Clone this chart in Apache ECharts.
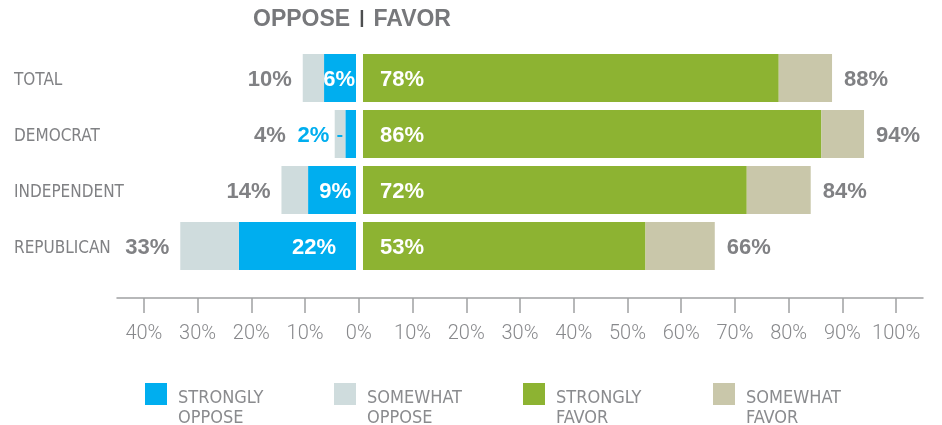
<!DOCTYPE html>
<html>
<head>
<meta charset="utf-8">
<script src="https://cdn.jsdelivr.net/npm/echarts@6/dist/echarts.min.js"></script>
<style>
  html, body { margin: 0; padding: 0; background: #fff; }
  #chart { width: 942px; height: 425px; }
</style>
</head>
<body>
<div id="chart"></div>
<script>
// values
var categories = ['TOTAL', 'DEMOCRAT', 'INDEPENDENT', 'REPUBLICAN'];
var stronglyOppose = [6, 2, 9, 22];
var somewhatOppose = [4, 2, 5, 11];
var stronglyFavor = [78, 86, 72, 53];
var somewhatFavor = [10, 8, 12, 13];
var opposeTotals = [10, 4, 14, 33];
var favorTotals = [88, 94, 84, 66];
var tickValues = [-40, -30, -20, -10, 0, 10, 20, 30, 40, 50, 60, 70, 80, 90, 100];

var NARROW = '"Liberation Sans Narrow", "DejaVu Sans Condensed", sans-serif';
var BOLD = '"Liberation Sans", Arial, sans-serif';
var GREY = '#808184';
var BLUE = '#00aeef';

var chart = echarts.init(document.getElementById('chart'));

var valueLabel = {
  fontFamily: BOLD,
  fontWeight: 'bold',
  fontSize: 22,
  offset: [0, 2]
};

// strongly oppose: inside labels, democrat one sits outside with a small dash
var insideDist = [1, 0, 5, 20];
var strongOppData = stronglyOppose.map(function (v, i) {
  var item = { value: -v, label: { distance: insideDist[i] } };
  if (categories[i] === 'DEMOCRAT') {
    item.label = {
      position: 'left',
      distance: 3,
      formatter: '{v|' + v + '%}{g|}{d|}',
      rich: {
        v: { color: BLUE, fontFamily: BOLD, fontWeight: 'bold', fontSize: 22 },
        g: { width: 8 },
        d: { width: 5, height: 2, backgroundColor: BLUE }
      }
    };
  }
  return item;
});

var someOppData = somewhatOppose.map(function (v, i) {
  var item = { value: -v };
  if (categories[i] === 'DEMOCRAT') item.label = { distance: 49 };
  return item;
});

chart.setOption({
  backgroundColor: '#fff',
  animation: false,
  title: {
    left: 253,
    top: 8,
    padding: 0,
    text: '{b|OPPOSE}{s||}{b|FAVOR}',
    textStyle: {
      rich: {
        b: { fontFamily: BOLD, fontWeight: 'bold', fontSize: 23, color: '#77787b' },
        s: { fontFamily: BOLD, fontSize: 19, color: '#4d4e50', padding: [0, 9, 3, 9] }
      }
    }
  },
  legend: [
    { name: 'STRONGLY OPPOSE', left: 145 },
    { name: 'SOMEWHAT OPPOSE', left: 334 },
    { name: 'STRONGLY FAVOR', left: 523 },
    { name: 'SOMEWHAT FAVOR', left: 713 }
  ].map(function (l) {
    return {
      data: [l.name],
      left: l.left,
      top: 360,
      padding: 0,
      icon: 'rect',
      itemWidth: 22,
      itemHeight: 22,
      selectedMode: false,
      formatter: function (name) {
        var w = name.split(' ');
        return '{sp| }\n{t|' + w[0] + '}\n{t|' + w[1] + '}';
      },
      textStyle: {
        color: '#8a8b8e',
        fontFamily: NARROW,
        fontSize: 18,
        rich: {
          sp: { height: 28, lineHeight: 28, fontSize: 4 },
          t: { color: '#8a8b8e', fontFamily: NARROW, fontSize: 18, lineHeight: 20, padding: [0, 0, 0, 6] }
        }
      }
    };
  }),
  grid: [
    { left: 117, right: 19, top: 0, height: 298, outerBoundsMode: 'none' },
    { left: 143, right: 586, top: 50, height: 224, outerBoundsMode: 'none' },
    { left: 363, right: 46, top: 50, height: 224, outerBoundsMode: 'none' }
  ],
  xAxis: [
    {
      gridIndex: 0,
      type: 'value',
      min: -45,
      max: 105,
      axisLine: { show: true, onZero: false, lineStyle: { color: '#a0a1a3', width: 1.5 } },
      axisTick: { show: true, customValues: tickValues, length: 15, lineStyle: { color: '#a0a1a3', width: 1.5 } },
      axisLabel: {
        customValues: tickValues,
        margin: 26,
        color: '#88898c',
        fontFamily: 'Roboto, sans-serif',
        fontWeight: 300,
        fontSize: 20,
        formatter: function (v) { return Math.abs(v) + '%'; }
      },
      splitLine: { show: false }
    },
    { gridIndex: 1, type: 'value', min: -40, max: 0, show: false },
    { gridIndex: 2, type: 'value', min: 0, max: 100, show: false }
  ],
  yAxis: [
    { gridIndex: 0, type: 'value', show: false },
    {
      gridIndex: 1,
      type: 'category',
      data: categories,
      inverse: true,
      axisLine: { show: false },
      axisTick: { show: false },
      axisLabel: {
        align: 'left',
        margin: 129,
        formatter: function (v) { return '{c|' + v + '}'; },
        rich: {
          c: { color: GREY, fontFamily: NARROW, fontSize: 17, padding: [5, 0, 0, 0] }
        }
      }
    },
    { gridIndex: 2, type: 'category', data: categories, inverse: true, show: false }
  ],
  series: [
    {
      name: 'STRONGLY OPPOSE',
      type: 'bar',
      xAxisIndex: 1,
      yAxisIndex: 1,
      stack: 'opp',
      barWidth: 48,
      itemStyle: { color: BLUE },
      label: Object.assign({
        show: true,
        position: 'insideRight',
        color: '#fff',
        formatter: function (p) { return Math.abs(p.value) + '%'; }
      }, valueLabel),
      data: strongOppData
    },
    {
      name: 'SOMEWHAT OPPOSE',
      type: 'bar',
      xAxisIndex: 1,
      yAxisIndex: 1,
      stack: 'opp',
      barWidth: 48,
      itemStyle: { color: '#cfdcdd' },
      label: Object.assign({
        show: true,
        position: 'left',
        distance: 11,
        color: GREY,
        formatter: function (p) { return opposeTotals[p.dataIndex] + '%'; }
      }, valueLabel),
      data: someOppData
    },
    {
      name: 'STRONGLY FAVOR',
      type: 'bar',
      xAxisIndex: 2,
      yAxisIndex: 2,
      stack: 'fav',
      barWidth: 48,
      itemStyle: { color: '#8db332' },
      label: Object.assign({
        show: true,
        position: 'insideLeft',
        distance: 17,
        color: '#fff',
        formatter: '{c}%'
      }, valueLabel),
      data: stronglyFavor
    },
    {
      name: 'SOMEWHAT FAVOR',
      type: 'bar',
      xAxisIndex: 2,
      yAxisIndex: 2,
      stack: 'fav',
      barWidth: 48,
      itemStyle: { color: '#c9c7aa' },
      label: Object.assign({
        show: true,
        position: 'right',
        distance: 12,
        color: GREY,
        formatter: function (p) { return favorTotals[p.dataIndex] + '%'; }
      }, valueLabel),
      data: somewhatFavor
    }
  ]
});
</script>
</body>
</html>
